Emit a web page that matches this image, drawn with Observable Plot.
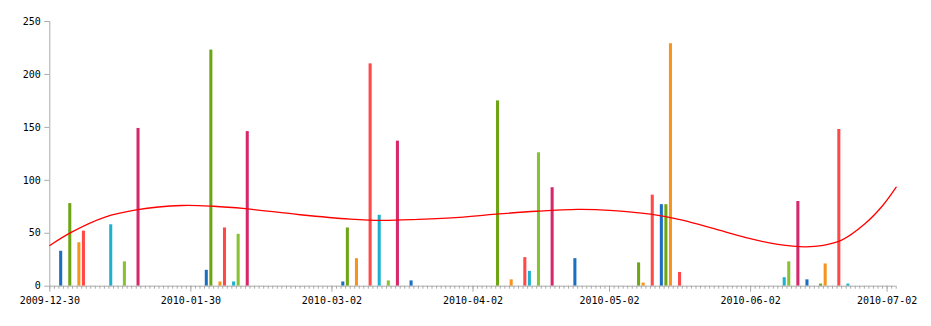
<!DOCTYPE html>
<html>
<head>
<meta charset="utf-8">
<script src="https://cdn.jsdelivr.net/npm/d3@7"></script>
<script src="https://cdn.jsdelivr.net/npm/@observablehq/plot@0.6"></script>
<style>
  html, body { margin: 0; padding: 0; background: #fff; }
  #chart svg { display: block; }
</style>
</head>
<body>
<div id="chart"></div>
<script>
// Bar data
const barDates = [
  "2010-01-01","2010-01-03","2010-01-05","2010-01-06","2010-01-12","2010-01-15","2010-01-18",
  "2010-02-02","2010-02-03","2010-02-05","2010-02-06","2010-02-08","2010-02-09","2010-02-11",
  "2010-03-04","2010-03-05","2010-03-07","2010-03-10","2010-03-12","2010-03-14","2010-03-16",
  "2010-03-19","2010-04-07","2010-04-10","2010-04-13","2010-04-14","2010-04-16","2010-04-19",
  "2010-04-24","2010-05-08","2010-05-09","2010-05-11","2010-05-13","2010-05-14","2010-05-15",
  "2010-05-17","2010-06-09","2010-06-10","2010-06-12","2010-06-14","2010-06-17","2010-06-18",
  "2010-06-21","2010-06-23"
];
const barValues = [
  33, 78, 41, 52, 58, 23, 149,
  15, 223, 4, 55, 4, 49, 146,
  4, 55, 26, 210, 67, 5, 137,
  5, 175, 6, 27, 14, 126, 93,
  26, 22, 3, 86, 77, 77, 229,
  13, 8, 23, 80, 6, 2, 21,
  148, 2
];
const barSeries = [
  "A","B","C","D","E","F","G",
  "A","B","C","D","E","F","G",
  "A","B","C","D","E","F","G",
  "A","B","C","D","E","F","G",
  "A","B","C","D","A","B","C",
  "D","E","F","G","A","B","C",
  "D","E"
];
const seriesNames = ["A","B","C","D","E","F","G"];

// Trend line
const trendDates = [
  "2009-12-30","2010-01-04","2010-01-11","2010-01-18","2010-01-28","2010-02-04","2010-02-11",
  "2010-02-23","2010-03-06","2010-03-13","2010-03-21","2010-03-30","2010-04-07","2010-04-16",
  "2010-04-25","2010-05-02","2010-05-11","2010-05-18","2010-05-25","2010-06-01","2010-06-08",
  "2010-06-14","2010-06-18","2010-06-22","2010-06-27","2010-07-01","2010-07-04"
];
const trendValues = [
  38.5, 51.5, 65, 72, 76.2, 75.5, 73.2,
  67.5, 63.4, 62.1, 63.1, 65, 68, 70.8,
  72.5, 71.7, 68.1, 62.5, 54.3, 45.8, 39.5,
  37.2, 38.6, 43.5, 58.5, 76, 93.5
];

// Axes
const xTickLabels = ["2009-12-30","2010-01-30","2010-03-02","2010-04-02","2010-05-02","2010-06-02","2010-07-02"];
const yTicks = [0, 50, 100, 150, 200, 250];
const xDomain = ["2009-12-30", "2010-07-04"];
const yDomain = [0, 250];

const palette = ["#1b6ec2","#6ea515","#f7941d","#ff4848","#1eb0cf","#86c232","#d6286b"];

const parse = d3.utcParse("%Y-%m-%d");
const bars = barDates.map((d, i) => ({date: parse(d), value: barValues[i], series: barSeries[i]}));
const trend = trendDates.map((d, i) => ({date: parse(d), value: trendValues[i]}));
const x0 = parse(xDomain[0]), x1 = parse(xDomain[1]);
const days = d3.utcDay.range(x0, d3.utcDay.offset(x1, 1));

const chart = Plot.plot({
  width: 931,
  height: 326,
  marginLeft: 49.3,
  marginRight: 35.3,
  marginTop: 21,
  marginBottom: 40.3,
  style: {fontFamily: "'DejaVu Sans Mono', monospace", fontSize: "10px", color: "#000", background: "#fff"},
  x: {type: "utc", domain: [x0, x1], axis: null},
  y: {domain: yDomain, axis: null},
  color: {domain: seriesNames, range: palette},
  marks: [
    Plot.rectY(bars, {x: "date", y: "value", interval: "day", fill: "series", insetLeft: 0.75, insetRight: 0.75}),
    Plot.ruleY([0], {stroke: "#aaaaaa"}),
    Plot.ruleX([x0], {stroke: "#aaaaaa"}),
    Plot.axisX({ticks: days, tickSize: 3, tickFormat: () => "", stroke: "#aaaaaa"}),
    Plot.axisX({ticks: xTickLabels.map(parse), tickSize: 6, tickPadding: 5, tickFormat: d3.utcFormat("%Y-%m-%d"), stroke: "#aaaaaa", fill: "#000", label: null}),
    Plot.axisY({ticks: yTicks, tickSize: 5, tickPadding: 4, stroke: "#aaaaaa", fill: "#000", label: null}),
    Plot.line(trend, {x: "date", y: "value", stroke: "#ff0000", strokeWidth: 1.3, curve: "catmull-rom"})
  ]
});
document.getElementById("chart").appendChild(chart);
</script>
</body>
</html>
